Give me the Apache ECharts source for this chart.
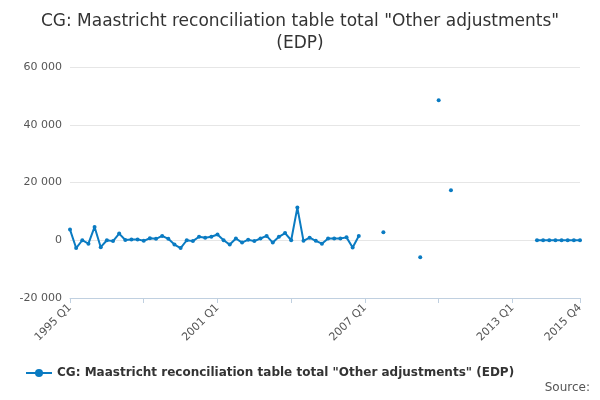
<!DOCTYPE html>
<html lang="en">
<head>
    <meta charset="UTF-8">
    <title>Other adjustments</title>
</head>
<body style="margin:0" onload="setup()">
    <div id="chart" style="width:600px;height:400px;"></div>
    <script src="https://cdn.jsdelivr.net/npm/echarts@6/dist/echarts.min.js"></script>
    <script>
        var seriesName = 'CG: Maastricht reconciliation table total "Other adjustments" (EDP)'
        // quarters 1995 Q1 .. 2015 Q4
        var quarters = []
        for (var y = 1995; y <= 2015; y++) {
            for (var q = 1; q <= 4; q++) quarters.push(y + ' Q' + q)
        }
        // values in millions, null = missing
        var values = [
            3700, -2700, 0, -1200, 4600, -2400, 0, -300, 2300, 100, 300, 300,
            -200, 700, 500, 1500, 500, -1500, -2700, 0, -300, 1200, 900, 1200,
            2000, 0, -1500, 600, -800, 200, -300, 600, 1500, -800, 1200, 2500,
            0, 11300, -200, 900, -200, -1200, 600, 600, 600, 1000, -2500, 1500,
            null, null, null, 2800, null, null, null, null, null, -5900, null, null,
            48500, null, 17300, null, null, null, null, null, null, null, null, null,
            null, null, null, null, 0, 0, 0, 0, 0, 0, 0, 0
        ]
        var labelIdx = [0, 24, 48, 72, 83]

        function setup() {
            var chart = echarts.init(document.getElementById('chart'))
            chart.setOption({
                title: {
                    text: 'CG: Maastricht reconciliation table total "Other adjustments"\n(EDP)',
                    left: 'center', top: 6,
                    textStyle: { fontFamily: 'DejaVu Sans', fontSize: 17, fontWeight: 'normal', color: '#333', lineHeight: 22 }
                },
                legend: {
                    bottom: 16, left: 20,
                    itemWidth: 26, itemHeight: 10,
                    textStyle: { fontFamily: 'DejaVu Sans', fontSize: 12, fontWeight: 'bold', color: '#333' }
                },
                graphic: [{
                    type: 'text', right: 10, bottom: 6,
                    style: { text: 'Source:', fontFamily: 'DejaVu Sans', fontSize: 12, fill: '#555' }
                }],
                grid: { left: 70, right: 20, top: 67, bottom: 102 },
                xAxis: {
                    type: 'category', data: quarters, boundaryGap: false,
                    axisLine: { onZero: false, lineStyle: { color: '#c0d0e0' } },
                    axisTick: { alignWithLabel: true, interval: function (i) { return i % 12 === 0 || i === 83 }, lineStyle: { color: '#c0d0e0' } },
                    axisLabel: {
                        interval: function (i) { return labelIdx.indexOf(i) >= 0 },
                        rotate: 45, color: '#555', fontFamily: 'DejaVu Sans', fontSize: 11
                    }
                },
                yAxis: {
                    type: 'value', min: -20000, max: 60000, interval: 20000,
                    axisLabel: {
                        color: '#555', fontFamily: 'DejaVu Sans', fontSize: 11,
                        formatter: function (v) { return v.toString().replace(/\B(?=(\d{3})+(?!\d))/g, ' ') }
                    },
                    splitLine: { lineStyle: { color: '#e6e6e6' } }
                },
                series: [{
                    name: seriesName, type: 'line', data: values,
                    connectNulls: false, showAllSymbol: true,
                    symbol: 'circle', symbolSize: 4,
                    itemStyle: { color: '#0a7bc2' },
                    lineStyle: { width: 2, color: '#0a7bc2' }
                }]
            })
        }
    </script>
</body>
</html>
